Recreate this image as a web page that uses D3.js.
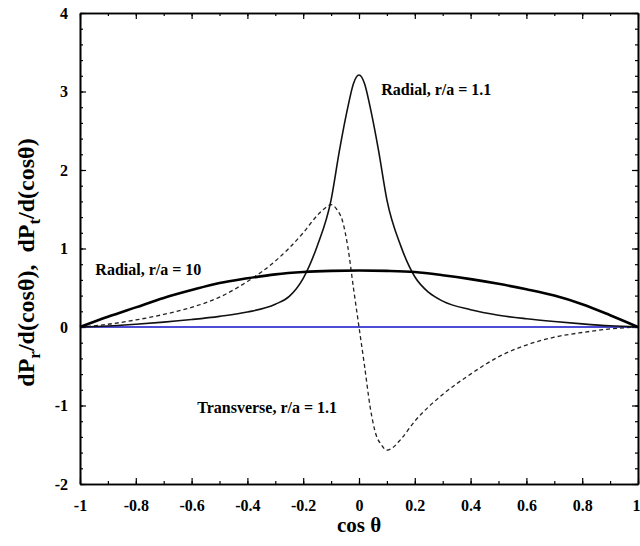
<!DOCTYPE html>
<html>
<head>
<meta charset="utf-8">
<script src="https://cdn.jsdelivr.net/npm/d3@7"></script>
<style>
  body { margin: 0; background: #fff; }
  svg text { font-family: "Liberation Serif", "Times New Roman", serif; font-weight: bold; fill: #000; }
</style>
</head>
<body>
<div id="chart"></div>
<script>
// --- data ---
const xTicks = [-1, -0.8, -0.6, -0.4, -0.2, 0, 0.2, 0.4, 0.6, 0.8, 1];
const xTickLabels = ['-1', '-0.8', '-0.6', '-0.4', '-0.2', '0', '0.2', '0.4', '0.6', '0.8', '1'];
const yTicks = [-2, -1, 0, 1, 2, 3, 4];
const yTickLabels = ['-2', '-1', '0', '1', '2', '3', '4'];

// Radial, r/a = 10 (thick solid)
const radial10X = [-1, -0.9, -0.8, -0.7, -0.6, -0.5, -0.4, -0.3, -0.2, -0.1, 0, 0.1, 0.2, 0.3, 0.4, 0.5, 0.6, 0.7, 0.8, 0.9, 1];
const radial10Y = [0, 0.13, 0.25, 0.37, 0.47, 0.56, 0.62, 0.67, 0.70, 0.715, 0.72, 0.715, 0.70, 0.66, 0.61, 0.55, 0.48, 0.40, 0.29, 0.15, 0];

// Radial, r/a = 1.1 (thin solid)
const radial11X = [-1, -0.9, -0.8, -0.7, -0.6, -0.5, -0.4, -0.3, -0.25, -0.2, -0.15, -0.1, -0.07, -0.04, -0.02, 0,
                   0.02, 0.04, 0.07, 0.1, 0.15, 0.2, 0.25, 0.3, 0.4, 0.5, 0.6, 0.7, 0.8, 0.9, 1];
const radial11Y = [0, 0.012, 0.035, 0.062, 0.095, 0.135, 0.19, 0.29, 0.39, 0.62, 1.03, 1.62, 2.25, 2.8, 3.1, 3.21,
                   3.1, 2.8, 2.25, 1.62, 1.03, 0.64, 0.44, 0.33, 0.22, 0.15, 0.105, 0.07, 0.04, 0.015, 0];

// Transverse, r/a = 1.1 (dashed)
const transX = [-1, -0.9, -0.8, -0.7, -0.6, -0.5, -0.4, -0.3, -0.2, -0.15, -0.12, -0.1, -0.08, -0.06, -0.04, -0.02, 0,
                0.02, 0.04, 0.06, 0.08, 0.1, 0.12, 0.15, 0.2, 0.3, 0.4, 0.5, 0.6, 0.7, 0.8, 0.9, 1];
const transY = [0, 0.035, 0.09, 0.16, 0.25, 0.38, 0.58, 0.84, 1.2, 1.42, 1.52, 1.56, 1.5, 1.36, 1.02, 0.5, 0,
                -0.5, -1.02, -1.36, -1.5, -1.57, -1.54, -1.43, -1.2, -0.86, -0.6, -0.38, -0.23, -0.13, -0.07, -0.025, 0];

const labels = [
  { text: 'Radial, r/a = 1.1', x: 0.08, y: 2.95 },
  { text: 'Radial, r/a = 10', x: -0.945, y: 0.66 },
  { text: 'Transverse, r/a = 1.1', x: -0.58, y: -1.09 }
];

// --- chart ---
const width = 640, height = 546;
const margin = { top: 13, right: 2, bottom: 62, left: 80 };

const svg = d3.select('#chart').append('svg')
  .attr('width', width)
  .attr('height', height);

const x = d3.scaleLinear().domain([-1, 1]).range([margin.left, width - margin.right]);
const y = d3.scaleLinear().domain([-2, 4]).range([height - margin.bottom, margin.top]);

const minorX = d3.range(-10, 11).map(d => d / 10);
const minorY = d3.range(-10, 21).map(d => d / 5);

function drawAxis(axisFn, transform, ticks, size, labelsOn, fmt) {
  const g = svg.append('g')
    .attr('transform', transform)
    .call(axisFn.tickValues(ticks).tickSize(size).tickSizeOuter(0)
      .tickFormat(labelsOn ? fmt : () => ''));
  g.select('.domain').attr('stroke', '#000').attr('stroke-width', 1.6);
  g.selectAll('.tick line').attr('stroke', '#000').attr('stroke-width', 1.2);
  return g;
}

const fmtX = d => xTickLabels[xTicks.indexOf(d)];
const fmtY = d => yTickLabels[yTicks.indexOf(d)];
const bottomY = y(-2), topY = y(4), leftX = x(-1), rightX = x(1);

// minor ticks
drawAxis(d3.axisBottom(x), `translate(0,${bottomY})`, minorX, -3, false);
drawAxis(d3.axisTop(x), `translate(0,${topY})`, minorX, -3, false);
drawAxis(d3.axisLeft(y), `translate(${leftX},0)`, minorY, -3, false);
drawAxis(d3.axisRight(y), `translate(${rightX},0)`, minorY, -3, false);

// major ticks
const gx = drawAxis(d3.axisBottom(x), `translate(0,${bottomY})`, xTicks, -6, true, fmtX);
gx.selectAll('.tick text').attr('y', 16).attr('font-size', 16);
// the last label sits on the right edge; keep it inside the page
gx.selectAll('.tick text').filter(d => d === 1).attr('text-anchor', 'end').attr('dx', 2);
drawAxis(d3.axisTop(x), `translate(0,${topY})`, xTicks, -6, false);
const gy = drawAxis(d3.axisLeft(y), `translate(${leftX},0)`, yTicks, -6, true, fmtY);
gy.selectAll('.tick text').attr('x', -12).attr('font-size', 16);
drawAxis(d3.axisRight(y), `translate(${rightX},0)`, yTicks, -6, false);

svg.selectAll('.tick text')
  .style('font-family', '"Liberation Serif", serif')
  .style('font-weight', 'bold');

// zero line
svg.append('line')
  .attr('x1', x(-1)).attr('x2', x(1))
  .attr('y1', y(0)).attr('y2', y(0))
  .attr('stroke', '#1010c8')
  .attr('stroke-width', 1.3);

const line = d3.line()
  .x(d => x(d[0]))
  .y(d => y(d[1]))
  .curve(d3.curveMonotoneX);

svg.append('path')
  .datum(d3.zip(transX, transY))
  .attr('d', line)
  .attr('fill', 'none')
  .attr('stroke', '#222')
  .attr('stroke-width', 1.3)
  .attr('stroke-dasharray', '4,3');

svg.append('path')
  .datum(d3.zip(radial11X, radial11Y))
  .attr('d', line)
  .attr('fill', 'none')
  .attr('stroke', '#111')
  .attr('stroke-width', 1.6);

svg.append('path')
  .datum(d3.zip(radial10X, radial10Y))
  .attr('d', line)
  .attr('fill', 'none')
  .attr('stroke', '#000')
  .attr('stroke-width', 2.6);

// curve labels
svg.selectAll('text.curve-label')
  .data(labels)
  .enter()
  .append('text')
  .attr('class', 'curve-label')
  .attr('x', d => x(d.x))
  .attr('y', d => y(d.y))
  .attr('font-size', 16)
  .text(d => d.text);

// axis titles
svg.append('text')
  .attr('x', x(0))
  .attr('y', 532)
  .attr('text-anchor', 'middle')
  .attr('font-size', 21)
  .text('cos θ');

const yTitle = svg.append('text')
  .attr('transform', `translate(34,${(topY + bottomY) / 2 + 14}) rotate(-90)`)
  .attr('text-anchor', 'middle')
  .attr('font-size', 24);
yTitle.append('tspan').text('dP');
yTitle.append('tspan').attr('font-size', 17).attr('dy', 6).text('r');
yTitle.append('tspan').attr('dy', -6).text('/d(cosθ),\u00a0\u00a0dP');
yTitle.append('tspan').attr('font-size', 17).attr('dy', 6).text('t');
yTitle.append('tspan').attr('dy', -6).text('/d(cosθ)');
</script>
</body>
</html>
